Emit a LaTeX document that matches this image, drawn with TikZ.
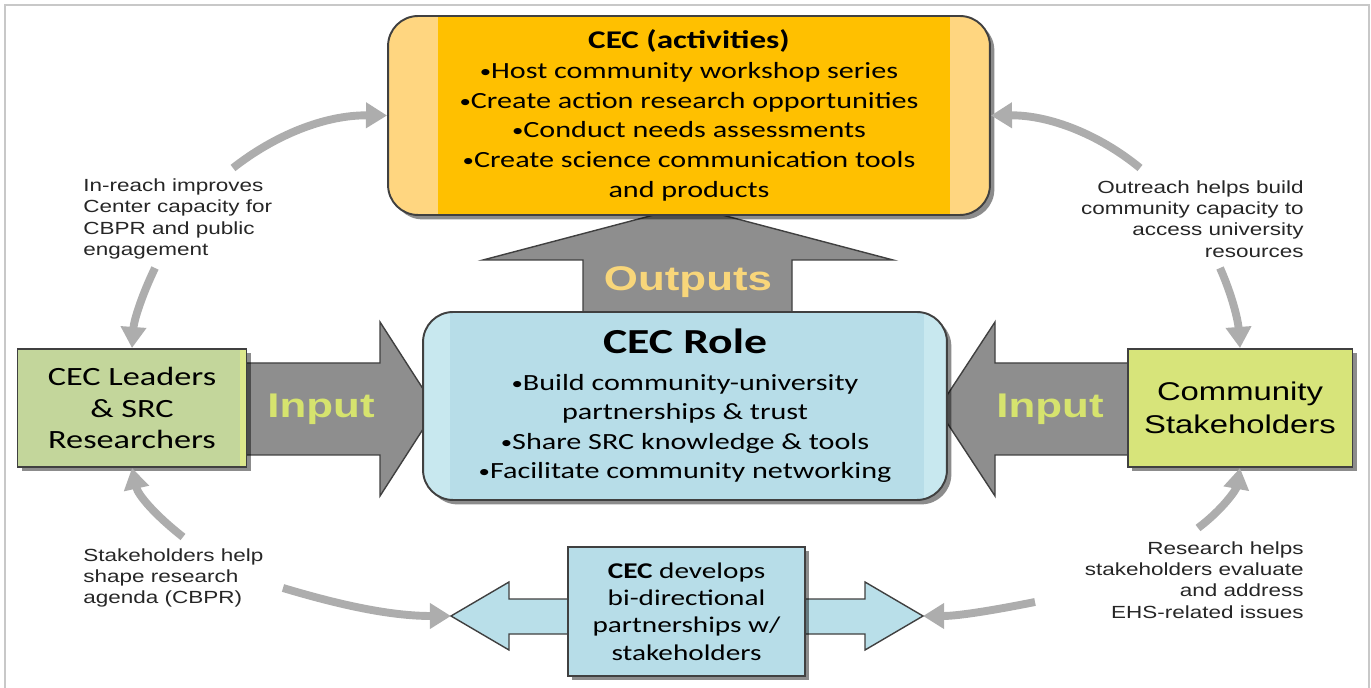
\documentclass[tikz,border=0pt]{standalone}
\usepackage{fontspec}
\setmainfont{Carlito}[FakeStretch=1.3]
\newfontfamily\arialw{Liberation Sans}[FakeStretch=1.28]
\usetikzlibrary{arrows.meta,shadows,calc}

\definecolor{actgold}{HTML}{FFC000}
\definecolor{actpale}{HTML}{FFD680}
\definecolor{roleblue}{HTML}{B7DDE8}
\definecolor{rolepale}{HTML}{C8E8EF}
\definecolor{partblue}{HTML}{B9DFE9}
\definecolor{leadgreen}{HTML}{C3D69B}
\definecolor{leadpale}{HTML}{DDE88C}
\definecolor{commgreen}{HTML}{D7E47A}
\definecolor{blockgray}{HTML}{8E8E8E}
\definecolor{edgegray}{HTML}{404040}
\definecolor{loopgray}{HTML}{ADADAD}
\definecolor{outtext}{HTML}{F8D67A}
\definecolor{intext}{HTML}{D6E36E}
\definecolor{framegray}{HTML}{C8C8C8}
\definecolor{notetext}{HTML}{262626}

% smaller bullet for the lists
\newcommand\bul{\raisebox{0.6pt}{\fontsize{10}{10}\selectfont•}}

\tikzset{
  box/.style={draw=edgegray, line width=1.1pt, align=center, inner sep=0pt,
    drop shadow={shadow xshift=2.5pt, shadow yshift=-2.5pt, fill=black, opacity=0.45}},
  blockarrow/.style={fill=blockgray, draw=edgegray, line width=0.8pt, line join=miter},
  cyclearrow/.style={draw=loopgray, line width=4.5pt, -{Triangle[length=12pt,width=14pt]}},
  note/.style={font=\arialw\fontsize{10}{12.2}\selectfont, text=notetext, inner sep=0pt},
  biglabel/.style={font=\arialw\bfseries\fontsize{19.5}{20}\selectfont},
}

\begin{document}
\begin{tikzpicture}[x=0.02cm, y=-0.02cm]
\useasboundingbox (0,0) rectangle (1371,688);
% frame
\draw[framegray, line width=1pt] (5,688) -- (5,5) -- (1369,5) -- (1369,688);

% big gray block arrows (behind the boxes)
\draw[blockarrow] (583,318) -- (583,260) -- (483,260) -- (688,206) -- (893,260)
  -- (792,260) -- (792,318) -- cycle;
\draw[blockarrow] (240,363) -- (380,363) -- (380,322) -- (436,409) -- (380,496)
  -- (380,455) -- (240,455) -- cycle;
\draw[blockarrow] (1135,363) -- (995,363) -- (995,322) -- (938,409) -- (995,496)
  -- (995,455) -- (1135,455) -- cycle;

% bi-directional arrow under the partnership box
\coordinate (ltip) at (451,616);
\coordinate (rtip) at (923,616);
\draw[fill=partblue, draw=edgegray, line width=0.8pt] (ltip) -- (509,582) -- (509,599)
  -- (865,599) -- (865,582) -- (rtip) -- (865,650) -- (865,634) -- (509,634)
  -- (509,650) -- cycle;

% activities
\node[box, rounded corners=0.6cm, fill=actpale, minimum width=12.04cm, minimum height=3.98cm,
  font=\fontsize{13.2}{16.9}\selectfont,
  path picture={\fill[actgold, sharp corners] ($(path picture bounding box.north west)+(50,0)$)
    rectangle ($(path picture bounding box.south east)+(-40,0)$);}]
  (act) at (689,115.5)
  {{\fontsize{14.5}{16.9}\selectfont\bfseries CEC (activities)}\\
   \bul Host community workshop series\\
   \bul Create action research opportunities\\
   \bul Conduct needs assessments\\
   \bul Create science communication tools\\
   and products};

% role
\node[box, rounded corners=0.6cm, fill=rolepale, minimum width=10.48cm, minimum height=3.76cm,
  font=\fontsize{13.2}{16.8}\selectfont,
  path picture={\fill[roleblue, sharp corners] ($(path picture bounding box.north west)+(27,0)$)
    rectangle ($(path picture bounding box.south east)+(-23,0)$);}]
  (role) at (685,406)
  {{\fontsize{20}{24}\selectfont\bfseries CEC Role}\\[4pt]
   \bul Build community-university\\
   partnerships \& trust\\
   \bul Share SRC knowledge \& tools\\
   \bul Facilitate community networking};

% side boxes
\node[box, fill=leadgreen, minimum width=4.58cm, minimum height=2.36cm,
  font=\fontsize{15}{18.1}\selectfont,
  path picture={\fill[leadpale] ($(path picture bounding box.north east)+(-6,0)$)
    rectangle (path picture bounding box.south east);}]
  (lead) at (132,408) {CEC Leaders\\\& SRC\\Researchers};
\node[box, fill=commgreen, minimum width=4.5cm, minimum height=2.36cm,
  font=\arialw\fontsize{14.6}{18.7}\selectfont]
  (comm) at (1240,408) {Community\\Stakeholders};

% partnership box
\node[box, fill=roleblue, minimum width=4.74cm, minimum height=2.58cm,
  font=\fontsize{12.8}{15.6}\selectfont]
  (part) at (686.5,611.5)
  {\textbf{CEC} develops\\bi-directional\\partnerships w/\\stakeholders};

% arrow labels
\node[biglabel, text=outtext] (outlbl) at (688,282) {Outputs};
\node[biglabel, text=intext] (leftin) at (321,409) {Input};
\node[biglabel, text=intext] (rightin) at (1050,409) {Input};

% notes
\node[note, anchor=west, align=left] (inreachtxt) at (83,219)
  {In-reach improves\\Center capacity for\\CBPR and public\\engagement};
\node[note, anchor=east, align=right] (outreachtxt) at (1304,219)
  {Outreach helps build\\community capacity to\\access university\\resources};
\node[note, anchor=west, align=left] (shapetxt) at (83,578)
  {Stakeholders help\\shape research\\agenda (CBPR)};
\node[note, anchor=east, align=right] (evaltxt) at (1304,580)
  {Research helps\\stakeholders evaluate\\and address\\EHS-related issues};

% light gray cycle arrows
\coordinate (inreach) at (233,168);
\coordinate (inreachdown) at (155,268);
\coordinate (shapeup) at (183,537);
\coordinate (shaperight) at (283,588);
\coordinate (evalleft) at (1035,602);
\coordinate (evalup) at (1198,528);
\coordinate (outreachdown) at (1220,268);
\coordinate (outreach) at (1140,168);
\draw[cyclearrow] (inreach) .. controls (275,135) and (325,115) .. (act.west);
\draw[cyclearrow] (inreachdown) .. controls (142,295) and (134,320) .. (lead.north);
\draw[cyclearrow] (shapeup) .. controls (155,515) and (138,495) .. (lead.south);
\draw[cyclearrow] (shaperight) .. controls (340,605) and (390,616) .. (ltip);
\draw[cyclearrow] (evalleft) .. controls (1000,609) and (960,616) .. (rtip);
\draw[cyclearrow] (evalup) .. controls (1222,510) and (1236,490) .. (comm.south);
\draw[cyclearrow] (outreachdown) .. controls (1232,295) and (1238,320) .. (comm.north);
\draw[cyclearrow] (outreach) .. controls (1100,135) and (1050,115) .. (act.east);
\end{tikzpicture}
\end{document}
